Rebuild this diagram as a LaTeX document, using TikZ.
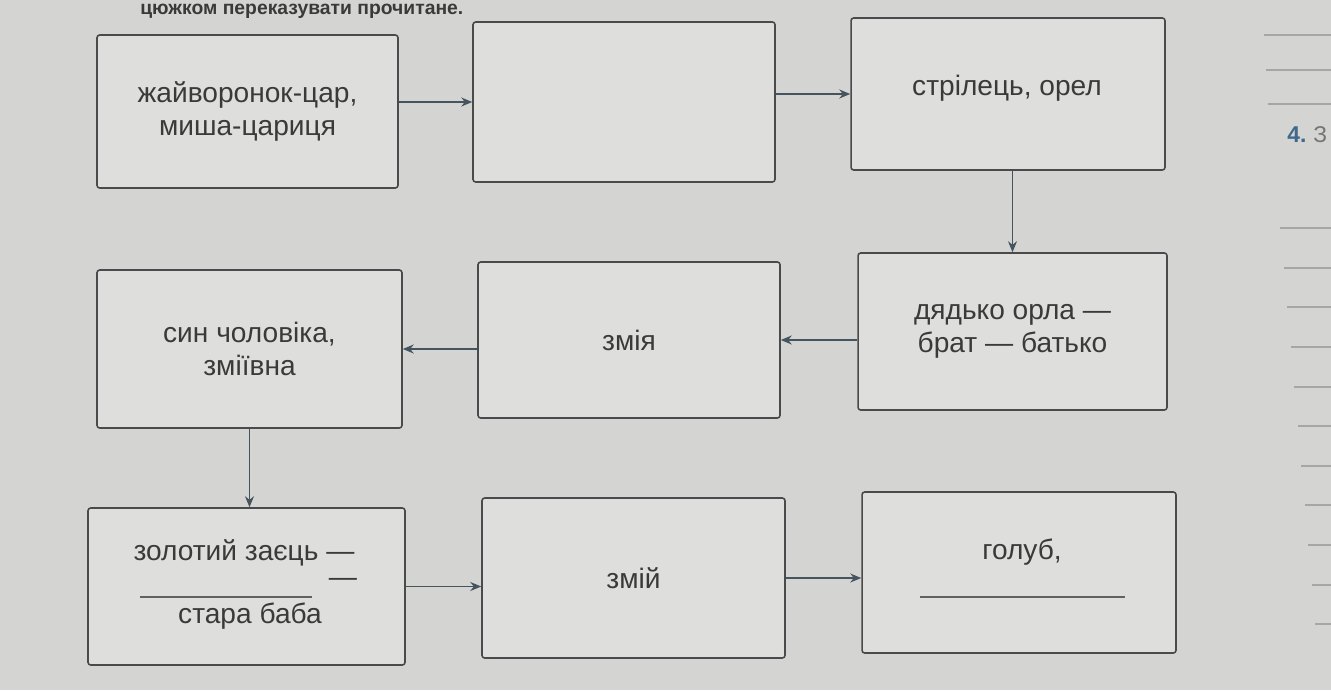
\documentclass[tikz,border=0pt]{standalone}
\usepackage{fontspec}
\setmainfont{Liberation Sans}
\usepackage{tikz}
\usetikzlibrary{arrows.meta}

\definecolor{paper}{RGB}{212,212,210}
\definecolor{boxfill}{RGB}{222,222,220}
\definecolor{boxline}{RGB}{72,74,76}
\definecolor{ink}{RGB}{58,58,58}
\definecolor{arrowc}{RGB}{70,84,96}
\definecolor{numblue}{RGB}{62,104,140}

\begin{document}
\spaceskip=7.5pt plus 1pt\relax
\begin{tikzpicture}[
    x=0.02cm, y=-0.02cm,
    >={Stealth[length=2.2mm, width=1.8mm]},
    chainbox/.style={rectangle, draw=boxline, line width=0.9pt, fill=boxfill,
                     rounded corners=1.5pt, minimum width=6.1cm,
                     minimum height=3.1cm, align=center, text=ink,
                     font=\fontsize{16}{19}\selectfont},
    txt/.style={text=ink, font=\fontsize{16}{19}\selectfont, inner sep=0pt},
    arr/.style={->, arrowc, line width=0.8pt},
    blank/.style={ink!80, line width=0.8pt},
    rule/.style={gray!70, line width=0.6pt},
]

% page
\fill[paper] (0,0) rectangle (1331,690);
\useasboundingbox (0,0) rectangle (1331,690);

% heading at the top of the page
\node[text=ink, font=\fontsize{11}{13}\selectfont\bfseries, anchor=west,
      inner sep=0pt] (head) at (140,11) {цюжком переказувати прочитане.};

% ═══════════════════════════════════════════════════════════════
%  ROW 1
% ═══════════════════════════════════════════════════════════════
\node[chainbox, minimum width=6.02cm, minimum height=3.06cm] (zhayv)
    at (247.5,111.5) {жайворонок-цар,\\миша-цариця};
\node[chainbox, minimum width=6.04cm, minimum height=3.2cm] (empty)
    at (624,102) {};
\node[chainbox, minimum width=6.28cm, minimum height=3.04cm] (strilets)
    at (1008,94) {};
\node[txt] (striletsT) at (1007,88) {стрілець, орел};

\draw[arr] (zhayv.east |- empty.west) -- (empty.west);
\draw[arr] (empty.east |- strilets.west) -- (strilets.west);

% ═══════════════════════════════════════════════════════════════
%  ROW 2
% ═══════════════════════════════════════════════════════════════
\node[chainbox, minimum width=6.18cm, minimum height=3.14cm] (dyadko)
    at (1012.5,331.5) {дядько орла —\\брат — батько};
\node[chainbox, minimum width=6.04cm, minimum height=3.12cm] (zmiya)
    at (629,340) {змія};
\node[chainbox, minimum width=6.1cm, minimum height=3.16cm] (syn)
    at (249.5,349) {син чоловіка,\\зміївна};

\draw[arr] (strilets.south -| dyadko.north) -- (dyadko.north);
\draw[arr] (dyadko.west |- zmiya.east) -- (zmiya.east);
\draw[arr] (zmiya.west |- syn.east) -- (syn.east);

% ═══════════════════════════════════════════════════════════════
%  ROW 3
% ═══════════════════════════════════════════════════════════════
\node[chainbox, minimum width=6.34cm, minimum height=3.14cm] (zolotyi)
    at (246.5,586.5) {};
\node[chainbox, minimum width=6.06cm, minimum height=3.2cm] (zmii)
    at (633.5,578) {змій};
\node[chainbox, minimum width=6.28cm, minimum height=3.22cm] (golub)
    at (1019,572.5) {};

\draw[arr] (syn.south) -- (syn.south |- zolotyi.north);
\draw[arr] (zolotyi.east) -- (zolotyi.east -| zmii.west);
\draw[arr] (zmii.east) -- (zmii.east -| golub.west);

% texts with blanks
\node[txt] (zolotyiT) at (244,553) {золотий заєць —};
\node[txt] (dashT) at (343,582) {—};
\node[txt] (babaT) at (250,616) {стара баба};
\coordinate (blankA1) at (140,597);
\coordinate (blankA2) at (312,597);
\draw[blank] (blankA1) -- (blankA2);

\node[txt] (golubT) at (1022,552) {голуб,};
\coordinate (blankB1) at (920,597);
\coordinate (blankB2) at (1125,597);
\draw[blank] (blankB1) -- (blankB2);

% ═══════════════════════════════════════════════════════════════
%  RIGHT MARGIN: next task and writing lines
% ═══════════════════════════════════════════════════════════════
\node[anchor=west, inner sep=0pt, font=\fontsize{13}{15}\selectfont\bfseries,
      text=numblue] (task) at (1287,135) {4.};
\node[anchor=west, inner sep=0pt, font=\fontsize{13}{15}\selectfont,
      text=ink!70] (taskT) at (1313,135) {З};
\foreach \yy/\xx in {35/1264, 70/1266, 104/1268, 228/1280, 268/1284,
                     307/1287, 347/1291, 387/1294, 426/1298, 466/1301,
                     505/1305, 545/1308, 585/1312, 624/1315}
    \draw[rule] (\xx,\yy) -- (1331,\yy);

\end{tikzpicture}
\end{document}
